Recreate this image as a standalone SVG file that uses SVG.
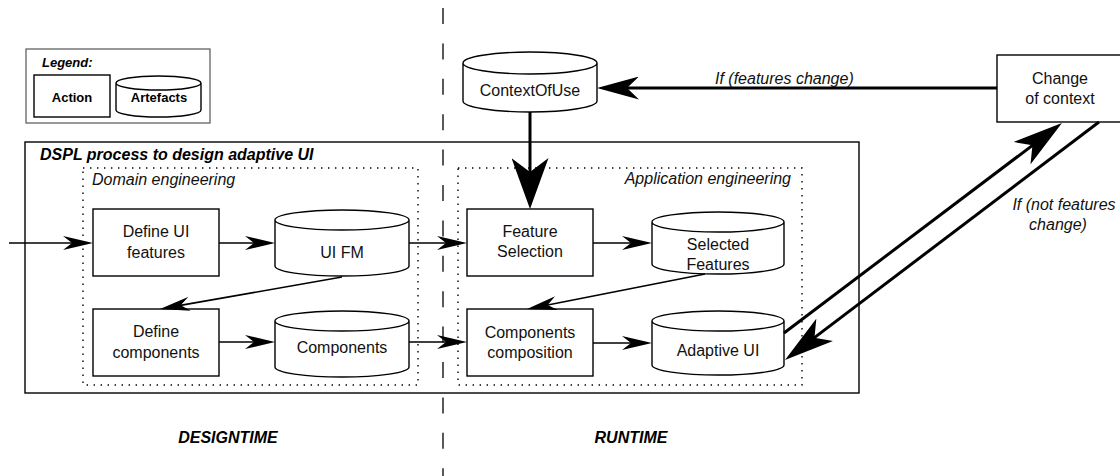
<svg xmlns="http://www.w3.org/2000/svg" width="1120" height="476" viewBox="0 0 1120 476">
<style>
.node{fill:#fff;stroke:#000;stroke-width:1.4}
.t{font-family:"Liberation Sans",Arial,sans-serif;font-size:16px;fill:#111;text-anchor:middle}
.it{font-family:"Liberation Sans",Arial,sans-serif;font-size:16px;fill:#111;font-style:italic}
.bi{font-family:"Liberation Sans",Arial,sans-serif;font-weight:bold;font-style:italic;fill:#000}
.lg{font-family:"Liberation Sans",Arial,sans-serif;font-size:13px;font-weight:bold;fill:#000;text-anchor:middle}
.dot{fill:none;stroke:#000;stroke-width:1.4;stroke-dasharray:1.4 5.6}
.c{fill:none;stroke:#000;stroke-width:1.6}
.cb{fill:none;stroke:#000;stroke-width:3}
</style>
<defs>
<marker id="a" markerUnits="userSpaceOnUse" viewBox="0 0 30 14" markerWidth="30" markerHeight="14" refX="18" refY="7" orient="auto"><path d="M0,0 L30,7 L0,14 L9,7 Z" fill="#000"/></marker>
<marker id="bh" markerUnits="userSpaceOnUse" viewBox="0 0 42 23" markerWidth="42" markerHeight="23" refX="22" refY="11.5" orient="auto"><path d="M0,0 L42,11.5 L0,23 L12,11.5 Z" fill="#000"/></marker>
<marker id="bv" markerUnits="userSpaceOnUse" viewBox="0 0 51 37" markerWidth="51" markerHeight="37" refX="31" refY="18.5" orient="auto"><path d="M0,0 L51,18.5 L0,37 L14,18.5 Z" fill="#000"/></marker>
<marker id="bd" markerUnits="userSpaceOnUse" viewBox="0 0 50 28" markerWidth="50" markerHeight="28" refX="30" refY="14" orient="auto"><path d="M0,0 L50,14 L0,28 L13,14 Z" fill="#000"/></marker>
</defs>
<rect width="1120" height="476" fill="#fff"/>

<g id="legend">
<rect x="26" y="49" width="184" height="74" fill="#fff" stroke="#555" stroke-width="1.2"/>
<text class="bi" x="42" y="67" font-size="13">Legend:</text>
<rect class="node" x="34" y="75" width="76" height="42"/>
<text class="lg" x="72" y="102">Action</text>
<path class="node" d="M116,83 A42.5,7 0 0 1 201,83 V110 A42.5,7 0 0 1 116,110 Z M116,83 A42.5,7 0 0 0 201,83"/>
<text class="lg" x="159" y="102">Artefacts</text>
</g>

<g id="dspl">
<rect x="25" y="142" width="834" height="251" fill="none" stroke="#000" stroke-width="1.4"/>
<text class="bi" x="40" y="160" font-size="16">DSPL process to design adaptive UI</text>
</g>

<g id="domain">
<rect class="dot" x="83" y="168" width="335" height="217"/>
<text class="it" x="92" y="185">Domain engineering</text>
</g>

<g id="application">
<rect class="dot" x="458" y="168" width="344" height="217"/>
<text class="it" x="791" y="184" text-anchor="end">Application engineering</text>
</g>

<g id="divider">
<line x1="443" y1="8" x2="443" y2="476" stroke="#000" stroke-width="1.3" stroke-dasharray="16 19.4"/>
<text class="bi" x="228" y="443" font-size="16" text-anchor="middle">DESIGNTIME</text>
<text class="bi" x="631" y="443" font-size="16" text-anchor="middle">RUNTIME</text>
</g>

<g id="define-ui-features">
<rect class="node" x="93" y="209" width="126" height="67"/>
<text class="t" x="156" y="237">Define UI</text>
<text class="t" x="156" y="258">features</text>
</g>

<g id="ui-fm">
<path class="node" d="M275,220 A67,10 0 0 1 409,220 V266 A67,10 0 0 1 275,266 Z M275,220 A67,10 0 0 0 409,220"/>
<text class="t" x="342" y="258">UI FM</text>
</g>

<g id="define-components">
<rect class="node" x="93" y="309" width="126" height="67"/>
<text class="t" x="156" y="337">Define</text>
<text class="t" x="156" y="358">components</text>
</g>

<g id="components">
<path class="node" d="M275,321 A67,10 0 0 1 409,321 V367 A67,10 0 0 1 275,367 Z M275,321 A67,10 0 0 0 409,321"/>
<text class="t" x="342" y="353">Components</text>
</g>

<g id="feature-selection">
<rect class="node" x="467" y="209" width="126" height="67"/>
<text class="t" x="530" y="237">Feature</text>
<text class="t" x="530" y="257">Selection</text>
</g>

<g id="selected-features">
<path class="node" d="M652,222 A66,10 0 0 1 784,222 V264 A66,10 0 0 1 652,264 Z M652,222 A66,10 0 0 0 784,222"/>
<text class="t" x="718" y="250">Selected</text>
<text class="t" x="718" y="270">Features</text>
</g>

<g id="components-composition">
<rect class="node" x="467" y="309" width="126" height="67"/>
<text class="t" x="530" y="338">Components</text>
<text class="t" x="530" y="358">composition</text>
</g>

<g id="adaptive-ui">
<path class="node" d="M652,321 A66,10 0 0 1 784,321 V365 A66,10 0 0 1 652,365 Z M652,321 A66,10 0 0 0 784,321"/>
<text class="t" x="718" y="356">Adaptive UI</text>
</g>

<g id="context-of-use">
<path class="node" d="M463,63 A67,11 0 0 1 597,63 V101 A67,11 0 0 1 463,101 Z M463,63 A67,11 0 0 0 597,63"/>
<text class="t" x="530" y="96">ContextOfUse</text>
</g>

<g id="change-of-context">
<rect class="node" x="997" y="55" width="126" height="67"/>
<text class="t" x="1060" y="84">Change</text>
<text class="t" x="1060" y="104">of context</text>
</g>

<g id="connectors">
<path class="c" d="M9,243 H81" marker-end="url(#a)"/>
<path class="c" d="M219,243 H263" marker-end="url(#a)"/>
<path class="c" d="M409,243 H455" marker-end="url(#a)"/>
<path class="c" d="M593,243 H640" marker-end="url(#a)"/>
<path class="c" d="M219,342 H263" marker-end="url(#a)"/>
<path class="c" d="M409,342 H455" marker-end="url(#a)"/>
<path class="c" d="M593,343 H640" marker-end="url(#a)"/>
<path class="c" d="M342,277 L171.8,306.9" marker-end="url(#a)"/>
<path class="c" d="M705,274 L538.8,306.7" marker-end="url(#a)"/>
<path class="cb" d="M997,88 H617" marker-end="url(#bh)"/>
<path class="cb" d="M530,112 V189" marker-end="url(#bv)"/>
<path class="cb" d="M784,333 L1046,135.1" marker-end="url(#bd)"/>
<path class="cb" d="M1099,122 L800.9,347.9" marker-end="url(#bd)"/>
<text class="it" x="715" y="84">If (features change)</text>
<text class="it" x="1064" y="210" text-anchor="middle">If (not features</text>
<text class="it" x="1058" y="230" text-anchor="middle">change)</text>
</g>
</svg>
